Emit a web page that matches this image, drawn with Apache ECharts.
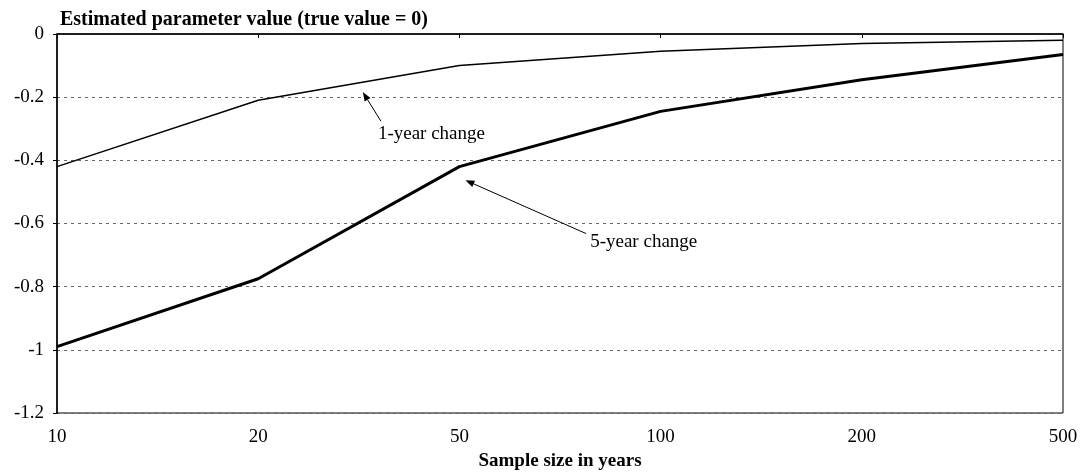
<!DOCTYPE html>
<html>
<head>
<meta charset="utf-8">
<script src="https://cdn.jsdelivr.net/npm/echarts@6/dist/echarts.min.js"></script>
<style>
  html, body { margin: 0; padding: 0; background: #fff; }
  #main { width: 1082px; height: 472px; }
</style>
</head>
<body>
<div id="main"></div>
<script>
// sample sizes (years)
const sampleSizes = ['10', '20', '50', '100', '200', '500'];
// estimated parameter, true value = 0
const oneYear = [-0.42, -0.21, -0.10, -0.055, -0.03, -0.02];
const fiveYear = [-0.99, -0.775, -0.42, -0.245, -0.145, -0.065];

const serif = 'Liberation Serif';
const chart = echarts.init(document.getElementById('main'));

const option = {
  backgroundColor: '#fff',
  animation: false,
  title: {
    text: 'Estimated parameter value (true value = 0)',
    left: 55,
    top: 5,
    textStyle: { fontFamily: serif, fontSize: 20, fontWeight: 'bold', color: '#000' }
  },
  grid: {
    left: 57, right: 19, top: 34, bottom: 59,
    outerBoundsMode: 'none',
    show: true, borderColor: '#000', borderWidth: 1
  },
  xAxis: {
    type: 'category',
    data: sampleSizes,
    boundaryGap: false,
    name: 'Sample size in years',
    nameLocation: 'middle',
    nameGap: 36,
    nameTextStyle: { fontFamily: serif, fontSize: 19, fontWeight: 'bold', color: '#000' },
    axisLine: { lineStyle: { color: '#000', width: 1.5 } },
    axisTick: { alignWithLabel: true, length: 4, lineStyle: { color: '#000' } },
    axisLabel: { fontFamily: serif, fontSize: 19, color: '#000', margin: 15 },
    splitLine: { show: false }
  },
  yAxis: {
    type: 'value',
    min: -1.2,
    max: 0,
    interval: 0.2,
    axisLine: { show: true, lineStyle: { color: '#000', width: 1.5 } },
    axisTick: { show: true, length: 4, lineStyle: { color: '#000' } },
    axisLabel: {
      fontFamily: serif, fontSize: 19, color: '#000', margin: 13,
      formatter: v => (Math.round(v * 10) / 10).toString()
    },
    splitLine: { lineStyle: { color: '#666', type: [3, 4], width: 1 } }
  },
  series: [
    {
      name: '1-year change',
      type: 'line',
      data: oneYear,
      symbol: 'none',
      lineStyle: { color: '#000', width: 1.5 }
    },
    {
      name: '5-year change',
      type: 'line',
      data: fiveYear,
      symbol: 'none',
      lineStyle: { color: '#000', width: 3 }
    }
  ]
};
chart.setOption(option);

// annotation positions in data space: [category index, value]
function pt(ix, v) {
  const lo = Math.floor(ix), hi = Math.min(lo + 1, sampleSizes.length - 1);
  const a = chart.convertToPixel({ gridIndex: 0 }, [lo, v]);
  const b = chart.convertToPixel({ gridIndex: 0 }, [hi, v]);
  const f = ix - lo;
  return [a[0] + (b[0] - a[0]) * f, a[1]];
}

function arrow(from, to) {
  const dx = to[0] - from[0], dy = to[1] - from[1];
  const len = Math.sqrt(dx * dx + dy * dy);
  const ux = dx / len, uy = dy / len;
  const hl = 9, hw = 3.5;
  const bx = to[0] - ux * hl, by = to[1] - uy * hl;
  return [
    { type: 'line', shape: { x1: from[0], y1: from[1], x2: bx, y2: by },
      style: { stroke: '#000', lineWidth: 1 } },
    { type: 'polygon',
      shape: { points: [to, [bx - uy * hw, by + ux * hw], [bx + uy * hw, by - ux * hw]] },
      style: { fill: '#000' } }
  ];
}

const labelStyle = { fontFamily: serif, fontSize: 19, fill: '#000' };
const t1 = pt(1.595, -0.318);
const t5 = pt(2.65, -0.66);
chart.setOption({
  graphic: [
    ...arrow(pt(1.61, -0.276), pt(1.52, -0.184)),
    { type: 'text', x: t1[0], y: t1[1], style: Object.assign({ text: '1-year change', textVerticalAlign: 'middle' }, labelStyle) },
    ...arrow(pt(2.63, -0.632), pt(2.03, -0.463)),
    { type: 'text', x: t5[0], y: t5[1], style: Object.assign({ text: '5-year change', textVerticalAlign: 'middle' }, labelStyle) }
  ]
});
</script>
</body>
</html>
